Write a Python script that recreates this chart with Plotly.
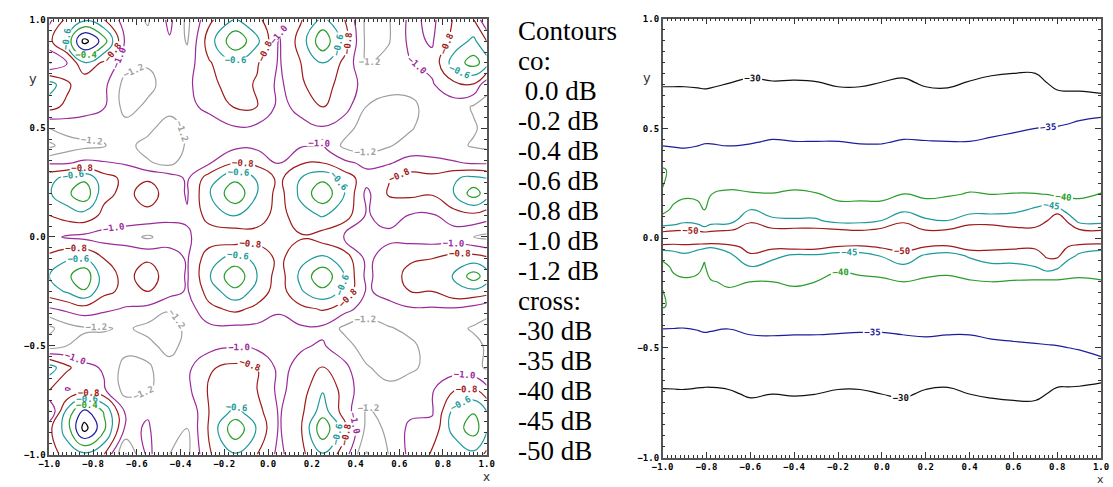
import numpy as np
import plotly.graph_objects as go

# ---------------- co-polar map (dB), grid ----------------
co_x = [-1.0, -0.92, -0.84, -0.75, -0.65, -0.55, -0.45, -0.37, -0.27, -0.15, -0.05,
        0.05, 0.15, 0.25, 0.35, 0.45, 0.55, 0.65, 0.75, 0.85, 0.94, 1.0]
co_y = [1.0, 0.9, 0.8, 0.7, 0.6, 0.5, 0.42, 0.34, 0.27, 0.2, 0.1, 0.0,
        -0.1, -0.18, -0.25, -0.33, -0.42, -0.5, -0.6, -0.7, -0.8, -0.88, -1.0]
co_z = [
    [-1.05, -0.75, -0.65, -0.80, -1.10, -1.22, -0.95, -1.25, -0.85, -0.58, -0.75, -0.98, -0.82, -0.55, -0.80, -1.25, -1.22, -0.95, -1.05, -0.78, -0.80, -1.20],
    [-0.85, -0.55, 0.08, -0.30, -1.05, -1.15, -1.02, -1.22, -0.70, -0.24, -0.55, -1.02, -0.72, -0.24, -0.70, -1.25, -1.22, -0.95, -1.02, -0.72, -0.55, -0.80],
    [-1.22, -1.02, -0.62, -0.85, -1.10, -1.18, -1.05, -1.10, -0.82, -0.63, -0.78, -1.02, -0.80, -0.60, -0.85, -1.22, -1.12, -1.01, -0.95, -0.50, -0.32, -0.50],
    [-0.50, -0.75, -0.97, -0.95, -1.28, -1.26, -1.10, -1.05, -0.85, -0.72, -0.82, -1.05, -0.82, -0.72, -0.88, -1.08, -1.10, -1.12, -1.02, -0.85, -0.82, -1.15],
    [-0.72, -0.85, -0.92, -0.98, -1.28, -1.16, -1.12, -1.05, -0.95, -0.78, -0.80, -1.05, -0.95, -0.78, -0.92, -1.20, -1.30, -1.26, -1.10, -1.10, -1.22, -1.25],
    [-1.20, -1.12, -1.10, -1.15, -1.12, -1.15, -1.30, -1.15, -1.10, -1.02, -1.05, -1.10, -1.05, -1.02, -1.12, -1.30, -1.32, -1.22, -1.10, -1.12, -1.18, -1.25],
    [-1.45, -1.30, -1.25, -1.21, -1.15, -1.26, -1.30, -1.18, -1.10, -1.05, -1.05, -1.08, -1.02, -0.99, -1.25, -1.30, -1.22, -1.12, -1.10, -1.15, -1.22, -1.25],
    [-1.02, -1.02, -0.95, -0.98, -1.02, -1.18, -1.25, -1.10, -1.02, -0.80, -0.85, -1.02, -0.82, -0.80, -0.95, -1.05, -1.02, -0.92, -0.95, -0.98, -1.02, -1.02],
    [-0.65, -0.55, -0.45, -0.72, -0.85, -0.82, -0.90, -1.03, -0.70, -0.45, -0.62, -0.85, -0.60, -0.45, -0.68, -0.92, -0.82, -0.72, -0.74, -0.62, -0.55, -0.60],
    [-0.62, -0.45, -0.24, -0.75, -0.85, -0.72, -0.88, -1.02, -0.62, -0.24, -0.60, -0.88, -0.55, -0.24, -0.60, -1.05, -0.78, -0.75, -0.78, -0.60, -0.30, -0.50],
    [-0.80, -0.72, -0.68, -0.85, -0.88, -0.85, -0.95, -0.98, -0.72, -0.58, -0.70, -0.88, -0.68, -0.58, -0.70, -1.02, -0.92, -1.01, -1.02, -0.88, -0.85, -0.90],
    [-0.95, -1.02, -1.05, -1.08, -1.12, -1.23, -1.10, -1.02, -0.92, -0.95, -0.88, -0.88, -0.82, -0.90, -1.02, -1.10, -1.05, -1.08, -1.10, -1.12, -1.20, -1.25],
    [-0.75, -0.62, -0.58, -0.80, -0.82, -0.82, -0.90, -1.02, -0.68, -0.52, -0.65, -0.85, -0.65, -0.55, -0.68, -1.05, -0.90, -0.82, -0.80, -0.70, -0.70, -0.75],
    [-0.60, -0.45, -0.24, -0.72, -0.85, -0.72, -0.88, -1.02, -0.62, -0.24, -0.60, -0.90, -0.55, -0.24, -0.60, -1.05, -0.88, -0.75, -0.75, -0.58, -0.30, -0.50],
    [-0.68, -0.58, -0.42, -0.75, -0.85, -0.80, -0.92, -1.02, -0.72, -0.45, -0.68, -0.90, -0.62, -0.45, -0.65, -1.02, -0.95, -0.80, -0.80, -0.65, -0.65, -0.70],
    [-1.02, -0.95, -0.88, -0.95, -1.02, -1.05, -1.18, -1.10, -0.85, -0.75, -0.85, -0.98, -0.85, -0.78, -0.92, -1.10, -1.05, -1.02, -1.02, -1.02, -1.08, -1.15],
    [-1.45, -1.28, -1.22, -1.22, -1.17, -1.26, -1.30, -1.15, -1.05, -1.05, -1.05, -1.05, -1.03, -1.04, -1.25, -1.30, -1.22, -1.15, -1.10, -1.15, -1.22, -1.25],
    [-1.30, -1.20, -1.15, -1.12, -1.12, -1.14, -1.28, -1.12, -1.08, -1.02, -1.05, -1.08, -1.02, -0.98, -1.12, -1.30, -1.32, -1.24, -1.12, -1.12, -1.15, -1.22],
    [-0.50, -0.75, -0.95, -1.02, -1.28, -1.22, -1.12, -1.05, -0.82, -0.75, -0.80, -1.05, -0.95, -0.78, -0.95, -1.18, -1.28, -1.26, -1.10, -1.10, -1.15, -1.22],
    [-0.78, -1.02, -0.92, -0.98, -1.28, -1.22, -1.12, -1.05, -0.78, -0.72, -0.80, -1.05, -0.90, -0.62, -0.88, -1.15, -1.15, -1.02, -1.02, -0.82, -0.78, -0.95],
    [-1.22, -0.55, -0.15, -0.42, -1.05, -1.02, -1.12, -1.18, -0.80, -0.55, -0.72, -1.02, -0.85, -0.50, -0.90, -1.22, -1.15, -1.05, -1.02, -0.55, -0.42, -0.60],
    [-0.85, -0.50, 0.08, -0.35, -1.05, -0.98, -1.15, -1.20, -0.78, -0.24, -0.62, -1.02, -0.82, -0.24, -0.72, -1.25, -1.18, -0.95, -0.95, -0.50, -0.30, -0.55],
    [-0.90, -0.72, -0.65, -0.80, -1.42, -0.95, -1.20, -1.25, -0.82, -0.62, -0.80, -1.05, -0.85, -0.62, -0.90, -1.42, -1.20, -0.95, -0.78, -0.80, -0.65, -0.85],
]
co_levels = [0.0, -0.2, -0.4, -0.6, -0.8, -1.0, -1.2, -1.4]
co_colors = ["#000000", "#1c1c9c", "#2a9d2a", "#1f9a9a", "#9e1b1b", "#9b2a9b", "#a0a0a0", "#a8a8a8"]

# ---------------- cross-polar map (dB): one profile per x column (bottom -> top) ----------------
cross_x = [-1.0, -0.95, -0.9, -0.84, -0.81, -0.78, -0.7, -0.6, -0.5, -0.4, -0.3, -0.2, -0.1,
           0.0, 0.1, 0.2, 0.3, 0.4, 0.5, 0.6, 0.7, 0.75, 0.8, 0.85, 0.9, 1.0]
cross_y = [-1.0, -0.86, -0.71, -0.57, -0.44, -0.31, -0.2, -0.13, -0.08, -0.04, 0.0,
           0.04, 0.08, 0.13, 0.2, 0.31, 0.44, 0.57, 0.71, 0.86, 1.0]
cross_cols = [
    [-24, -27.2, -29.48, -32.5, -33.65, -40.4, -39.8, -38.2, -41.8, -47.2, -58, -47.0, -42.0, -38.67, -39.8, -40.5, -34.0, -32.5, -29.58, -27.2, -24],
    [-24, -27.2, -29.53, -32.5, -33.9, -39.0, -38.5, -41.13, -43.43, -46.57, -58, -48.3, -41.7, -40.82, -38.5, -39.0, -34.05, -32.5, -29.58, -27.2, -24],
    [-24, -27.2, -29.58, -32.5, -34.25, -37.5, -39.0, -42.5, -44.22, -47.33, -58, -48.86, -43.71, -42.5, -39.0, -37.5, -34.25, -32.5, -29.58, -27.2, -24],
    [-24, -27.2, -29.40, -32.5, -34.55, -37.5, -38.5, -41.5, -43.0, -46.15, -58, -48.0, -43.0, -41.5, -38.87, -37.5, -34.55, -32.5, -29.45, -27.2, -24],
    [-24, -27.2, -29.32, -32.5, -34.79, -37.5, -38.5, -39.47, -40.8, -46.0, -58, -46.5, -41.5, -39.83, -38.5, -37.5, -34.79, -32.5, -29.32, -27.2, -24],
    [-24, -27.2, -29.32, -32.5, -34.68, -37.5, -39.58, -42.5, -43.0, -45.2, -58, -47.68, -43.0, -42.5, -39.95, -37.5, -34.79, -32.5, -29.45, -27.2, -24],
    [-24, -27.2, -29.58, -32.5, -34.38, -37.5, -40.73, -41.5, -43.6, -47.33, -58, -48.86, -42.68, -41.5, -40.56, -37.5, -34.55, -32.5, -29.91, -27.2, -24],
    [-24, -27.2, -30.38, -32.5, -35.02, -37.5, -39.95, -44.9, -49.1, -52.5, -58, -52.5, -49.17, -44.95, -40.25, -37.5, -34.79, -32.5, -30.42, -27.2, -24],
    [-24, -27.2, -30.02, -32.5, -35.1, -37.5, -39.95, -42.5, -46.67, -51.1, -58, -50.56, -46.07, -42.5, -40.12, -37.5, -35.21, -32.5, -30.12, -27.2, -24],
    [-24, -27.2, -30.2, -32.5, -35.02, -37.5, -40.56, -42.5, -44.0, -52.0, -58, -50.63, -45.63, -42.5, -40.56, -37.5, -35.02, -32.5, -30.2, -27.2, -24],
    [-24, -27.2, -30.02, -32.5, -35.02, -37.5, -39.95, -42.5, -44.0, -52.0, -58, -50.63, -45.63, -42.5, -40.25, -37.5, -35.02, -32.5, -30.08, -27.2, -24],
    [-24, -27.2, -29.58, -32.5, -34.9, -37.5, -38.5, -40.82, -42.5, -49.5, -58, -49.95, -43.33, -42.5, -38.12, -37.5, -35.02, -32.5, -29.58, -27.2, -24],
    [-24, -27.2, -29.58, -32.5, -34.79, -37.5, -38.12, -42.5, -43.0, -48.86, -58, -48.86, -43.71, -42.5, -38.12, -37.5, -34.79, -32.5, -29.58, -27.2, -24],
    [-24, -27.2, -30.02, -32.5, -34.79, -37.5, -39.0, -42.5, -45.28, -50.67, -58, -50.71, -45.02, -42.5, -38.12, -37.5, -34.79, -32.5, -30.02, -27.2, -24],
    [-24, -27.2, -30.42, -32.5, -35.02, -37.5, -39.95, -44.3, -47.8, -52.2, -58, -56.6, -47.8, -44.3, -40.18, -37.5, -35.21, -32.5, -30.42, -27.2, -24],
    [-24, -27.2, -29.58, -32.5, -35.21, -37.5, -39.0, -42.5, -44.29, -49.95, -58, -48.86, -45.63, -42.5, -39.0, -37.5, -35.1, -32.5, -29.58, -27.2, -24],
    [-24, -27.2, -29.32, -32.5, -35.02, -37.5, -38.12, -42.5, -43.0, -48.86, -58, -49.9, -45.02, -42.5, -39.58, -37.5, -35.02, -32.5, -29.45, -27.2, -24],
    [-24, -27.2, -30.02, -32.5, -35.02, -37.5, -39.58, -42.5, -45.63, -52.62, -58, -51.25, -48.75, -42.5, -40.25, -37.5, -35.02, -32.5, -30.12, -27.2, -24],
    [-24, -27.2, -30.42, -32.5, -35.46, -37.5, -39.95, -43.5, -48.5, -50.9, -58, -51.25, -48.75, -42.5, -39.95, -37.5, -35.46, -32.5, -30.7, -27.2, -24],
    [-24, -27.2, -30.7, -32.5, -35.76, -37.5, -39.58, -43.5, -48.5, -50.5, -58, -50.5, -48.5, -43.5, -40.12, -37.5, -36.1, -32.5, -31.04, -27.2, -24],
    [-24, -27.2, -30.7, -32.5, -36.1, -37.5, -39.17, -45.02, -47.5, -50.8, -58, -50.8, -47.5, -45.8, -40.1, -37.5, -36.5, -33.24, -31.04, -27.2, -24],
    [-24, -27.2, -30.02, -32.16, -36.5, -37.5, -38.75, -47.5, -50.6, -54.5, -58, -53.5, -49.5, -47.0, -39.95, -37.5, -36.5, -33.5, -30.02, -27.2, -24],
    [-24, -27.2, -29.29, -32.6, -36.5, -37.5, -39.0, -46.0, -51.0, -55.0, -58, -56.5, -55.0, -46.67, -38.9, -37.5, -36.5, -33.7, -28.77, -27.2, -24],
    [-24, -27.2, -29.04, -33.24, -36.5, -37.5, -39.32, -42.5, -46.67, -49.9, -58, -53.75, -48.75, -42.5, -39.32, -37.5, -36.5, -34.06, -28.37, -27.2, -24],
    [-24, -27.2, -28.77, -33.7, -36.5, -37.5, -39.0, -42.5, -44.22, -47.33, -58, -49.9, -43.33, -42.5, -39.0, -37.5, -36.5, -34.45, -28.22, -27.2, -24],
    [-24, -27.2, -27.47, -34.55, -36.5, -37.5, -39.58, -42.5, -43.5, -46.0, -58, -48.86, -43.2, -42.5, -40.12, -37.5, -36.5, -34.73, -27.37, -27.2, -24],
]
cross_levels = [-30, -35, -40, -45, -50]
cross_colors = ["#111111", "#1c1c9c", "#2a9d2a", "#1f9a9a", "#9e1b1b"]

legend_lines = ["Contours", "co:", "\u00a00.0 dB", "-0.2 dB", "-0.4 dB", "-0.6 dB", "-0.8 dB",
                "-1.0 dB", "-1.2 dB", "cross:", "-30 dB", "-35 dB", "-40 dB", "-45 dB", "-50 dB"]

W, H = 1113, 487
fig = go.Figure()

zc = np.array(co_z)[::-1]
yc = list(np.array(co_y)[::-1])
for lev, col in zip(co_levels, co_colors):
    fig.add_trace(go.Contour(
        x=co_x, y=yc, z=zc, autocontour=False, showscale=False, hoverinfo="skip",
        contours=dict(start=lev, end=lev, size=0.2, coloring="none", showlabels=True,
                      labelformat=".1f",
                      labelfont=dict(family="DejaVu Sans Mono", size=9, color=col, weight="bold")),
        line=dict(color=col, width=1.2, smoothing=1.3),
        xaxis="x", yaxis="y"))

zx = np.array(cross_cols).T
for lev, col in zip(cross_levels, cross_colors):
    fig.add_trace(go.Contour(
        x=cross_x, y=cross_y, z=zx, autocontour=False, showscale=False, hoverinfo="skip",
        contours=dict(start=lev, end=lev, size=1, coloring="none", showlabels=True,
                      labelformat=".0f",
                      labelfont=dict(family="DejaVu Sans Mono", size=9, color=col, weight="bold")),
        line=dict(color=col, width=1.2, smoothing=1.3),
        xaxis="x2", yaxis="y2"))

tickfont = dict(family="DejaVu Sans Mono", size=9, color="black", weight="bold")
common = dict(range=[-1, 1], showline=True, linecolor="#555555", linewidth=1.5, mirror="allticks",
              ticks="inside", ticklen=6, tickwidth=1, tickcolor="#333333", showgrid=False,
              zeroline=False, tickfont=tickfont, tickformat=".1f", tick0=-1)
xax = dict(common, dtick=0.2, minor=dict(ticks="inside", ticklen=3, dtick=0.02, tickcolor="#333333", showgrid=False))
yax = dict(common, dtick=0.5, minor=dict(ticks="inside", ticklen=3, dtick=0.05, tickcolor="#333333", showgrid=False))

fig.update_layout(
    width=W, height=H, margin=dict(l=0, r=0, t=0, b=0),
    paper_bgcolor="white", plot_bgcolor="white", showlegend=False,
    xaxis=dict(xax, domain=[39 / W, 484 / W], anchor="y"),
    yaxis=dict(yax, domain=[1 - 459 / H, 1 - 14.7 / H], anchor="x"),
    xaxis2=dict(xax, domain=[663 / W, 1109 / W], anchor="y2"),
    yaxis2=dict(yax, domain=[1 - 462 / H, 1 - 14 / H], anchor="x2"),
)

annotations = []
for i, t in enumerate(legend_lines):
    cy = 27.0 + 30.57 * i
    annotations.append(dict(text=t, x=514 / W, y=1 - cy / H, xref="paper", yref="paper",
                            xanchor="left", yanchor="middle", showarrow=False,
                            font=dict(family="Liberation Serif", size=27, color="black")))
for (px, py, t, fs) in [(22, 75, "y", 13), (484, 482, "x", 12), (647, 74, "y", 13), (1108, 484, "x", 11)]:
    annotations.append(dict(text=t, x=px / W, y=1 - py / H, xref="paper", yref="paper",
                            xanchor="center", yanchor="middle", showarrow=False,
                            font=dict(family="DejaVu Sans", size=fs, color="#333333")))
fig.update_layout(annotations=annotations)

fig.write_html("out.html")
